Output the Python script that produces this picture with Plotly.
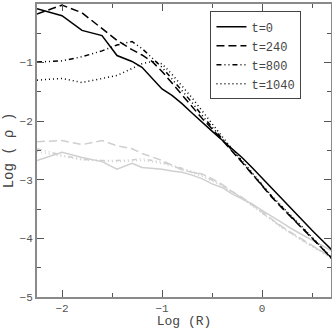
import plotly.graph_objs as go

# Log(R) grid shared by all profiles
log_r = [-2.25, -2.0, -1.8, -1.6, -1.45, -1.3, -1.2, -1.1, -1.0, -0.9, -0.8,
         -0.7, -0.6, -0.5, -0.4, -0.3, -0.2, -0.1, 0.0, 0.1, 0.2, 0.3, 0.4,
         0.5, 0.6, 0.7]

# Log(rho), black curves
rho_t0 = [-0.08, -0.2, -0.45, -0.54, -0.88, -0.98, -1.08, -1.27, -1.45, -1.56,
          -1.7, -1.86, -2.02, -2.17, -2.32, -2.47, -2.62, -2.79, -2.97, -3.15,
          -3.33, -3.51, -3.69, -3.86, -4.03, -4.2]
rho_t240 = [-0.17, -0.02, -0.15, -0.42, -0.62, -0.78, -0.87, -0.98, -1.15,
            -1.35, -1.55, -1.75, -1.95, -2.13, -2.32, -2.5, -2.7, -2.9, -3.1,
            -3.3, -3.48, -3.65, -3.82, -3.99, -4.16, -4.34]
rho_t800 = [-0.99, -0.97, -0.9, -0.8, -0.7, -0.64, -0.76, -0.92, -1.08, -1.28,
            -1.48, -1.68, -1.9, -2.1, -2.3, -2.49, -2.69, -2.89, -3.09, -3.29,
            -3.47, -3.64, -3.81, -3.99, -4.17, -4.35]
rho_t1040 = [-1.3, -1.27, -1.34, -1.27, -1.22, -1.1, -1.02, -0.98, -1.02,
             -1.2, -1.4, -1.6, -1.82, -2.05, -2.26, -2.47, -2.68, -2.88,
             -3.08, -3.28, -3.46, -3.63, -3.8, -3.98, -4.16, -4.34]

# Log(rho), grey curves
grey_t0 = [-2.67, -2.53, -2.62, -2.69, -2.82, -2.72, -2.79, -2.8, -2.82, -2.85,
           -2.87, -2.92, -2.98, -3.07, -3.13, -3.24, -3.32, -3.41, -3.52,
           -3.62, -3.73, -3.84, -3.94, -4.03, -4.12, -4.22]
grey_t240 = [-2.35, -2.33, -2.4, -2.33, -2.42, -2.47, -2.55, -2.61, -2.67,
             -2.75, -2.83, -2.87, -2.9, -2.98, -3.08, -3.2, -3.3, -3.42, -3.55,
             -3.68, -3.8, -3.91, -4.02, -4.12, -4.22, -4.33]
grey_t800 = [-2.47, -2.58, -2.65, -2.67, -2.67, -2.66, -2.64, -2.67, -2.7,
             -2.75, -2.8, -2.86, -2.92, -3.0, -3.09, -3.2, -3.31, -3.43, -3.56,
             -3.69, -3.81, -3.92, -4.03, -4.13, -4.23, -4.34]
grey_t1040 = [-2.52, -2.6, -2.66, -2.68, -2.69, -2.68, -2.67, -2.69, -2.72,
              -2.77, -2.82, -2.88, -2.94, -3.02, -3.1, -3.21, -3.32, -3.44,
              -3.57, -3.7, -3.82, -3.93, -4.04, -4.14, -4.24, -4.35]

labels = ['t=0', 't=240', 't=800', 't=1040']
dashes = ['solid', '8px,4px', '5px,3px,1px,3px,1px,3px', '1px,3px']

FONT = 'Liberation Mono, Courier New, monospace'

fig = go.Figure()

for ys, dash in zip([grey_t0, grey_t240, grey_t800, grey_t1040], dashes):
    fig.add_trace(go.Scatter(x=log_r, y=ys, mode='lines', showlegend=False,
                             line=dict(color='#cfcfcf', width=1.5, dash=dash)))

for ys, name, dash in zip([rho_t0, rho_t240, rho_t800, rho_t1040], labels, dashes):
    fig.add_trace(go.Scatter(x=log_r, y=ys, mode='lines', name=name,
                             line=dict(color='black', width=1.5, dash=dash)))

axis_common = dict(showline=True, mirror='ticks', linecolor='#8a8a8a',
                   linewidth=2, showgrid=False, zeroline=False, automargin=False,
                   ticks='inside', ticklen=7, tickwidth=1, tickcolor='#555',
                   tickfont=dict(family=FONT, size=11, color='#555'),
                   minor=dict(ticks='inside', ticklen=4, tickcolor='#555',
                              dtick=0.5))

fig.update_layout(
    width=332, height=329,
    margin=dict(l=37, r=1, t=4, b=32),
    paper_bgcolor='white', plot_bgcolor='white',
    font=dict(family=FONT, color='#444'),
    xaxis=dict(axis_common, range=[-2.25, 0.69], dtick=1, tick0=0,
               title=dict(text='Log (R)', font=dict(family=FONT, size=13, color='#444'),
                          standoff=7)),
    yaxis=dict(axis_common, range=[-5, 0], dtick=1, tick0=0,
               title=dict(text='Log ( ρ )', font=dict(family=FONT, size=14, color='#444'),
                          standoff=3)),
    legend=dict(x=0.59, y=0.975, xanchor='left', yanchor='top',
                bordercolor='#444', borderwidth=1, bgcolor='white',
                font=dict(family=FONT, size=12, color='#444'),
                tracegroupgap=0, itemwidth=30),
)

# page body has a default 8px margin; drop it so the figure fills the window
fig.write_html("out.html", config={'displayModeBar': False},
               post_script="document.body.style.margin='0';")
